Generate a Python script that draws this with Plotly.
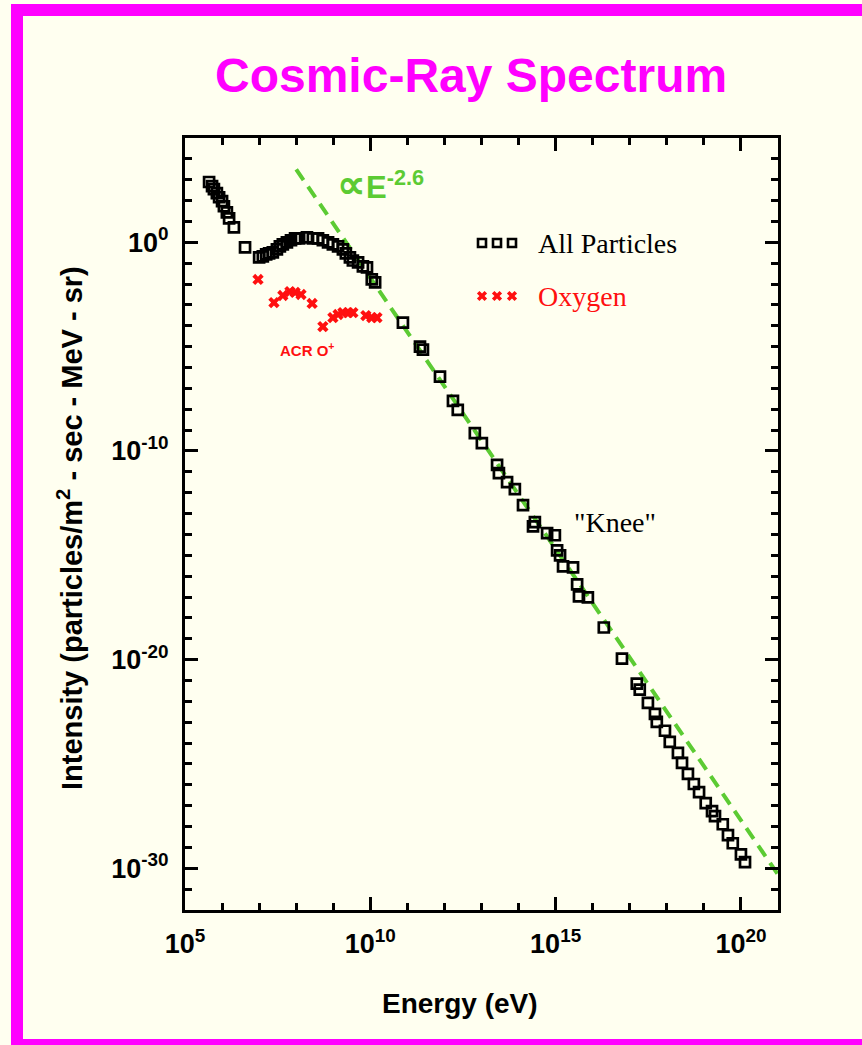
import numpy as np
import plotly.graph_objects as go

# ---------------- data (log10 values) ----------------
all_log_e = [5.65, 5.73, 5.78, 5.86, 5.92, 6.00, 6.05, 6.13, 6.19, 6.32, 6.62,
             7.00, 7.10, 7.19, 7.27, 7.37, 7.48, 7.56, 7.64, 7.75, 7.86, 7.97, 8.08,
             8.29, 8.45, 8.59, 8.72, 8.86, 8.99, 9.13, 9.26, 9.34, 9.45, 9.53, 9.67,
             9.80, 9.91, 10.04, 10.13,
             10.88, 11.34, 11.42, 11.88, 12.23, 12.36, 12.82, 13.01, 13.42, 13.47,
             13.69, 13.90, 14.12, 14.44, 14.39, 14.77, 14.98, 15.04, 15.12, 15.20,
             15.47, 15.58, 15.63, 15.87, 16.30, 16.79, 17.19, 17.27, 17.49, 17.68,
             17.73, 17.95, 18.08, 18.30, 18.41, 18.57, 18.73, 18.87, 19.05, 19.22,
             19.30, 19.51, 19.65, 19.78, 20.00, 20.11]
all_log_i = [2.89, 2.69, 2.55, 2.36, 2.16, 1.97, 1.73, 1.44, 1.15, 0.72, -0.24,
             -0.72, -0.67, -0.58, -0.53, -0.48, -0.34, -0.19, -0.10, 0.00, 0.10, 0.19, 0.19,
             0.24, 0.19, 0.19, 0.10, 0.00, -0.10, -0.19, -0.34, -0.53, -0.72, -0.87, -0.96,
             -1.15, -1.20, -1.78, -1.92,
             -3.85, -5.00, -5.14, -6.44, -7.60, -8.03, -9.14, -9.62, -10.67, -11.06,
             -11.49, -11.83, -12.60, -13.41, -13.61, -13.94, -14.04, -14.76, -15.00, -15.53,
             -15.58, -16.39, -16.97, -17.02, -18.46, -19.95, -21.15, -21.44, -22.07, -22.60,
             -22.98, -23.41, -23.94, -24.47, -24.95, -25.48, -25.96, -26.35, -26.88, -27.26,
             -27.50, -27.89, -28.41, -28.80, -29.33, -29.71]

oxy_log_e = [6.97, 7.40, 7.64, 7.83, 7.97, 8.13, 8.43, 8.72, 8.99, 9.13, 9.26,
             9.40, 9.53, 9.88, 10.04, 10.18]
oxy_log_i = [-1.78, -2.89, -2.55, -2.36, -2.40, -2.50, -2.93, -4.04, -3.61, -3.46, -3.37,
             -3.37, -3.37, -3.51, -3.61, -3.61]

# power-law guide line endpoints (log10 E, log10 I)
fit_log_e = [8.0, 21.0]
fit_log_i = [3.5, -30.3]

x_tick_exp = [5, 10, 15, 20]
y_tick_exp = [0, -10, -20, -30]

# ---------------- layout constants ----------------
W, H = 862, 1045
L, R, T, B = 185, 84, 138, 135
PW, PH = W - L - R, H - T - B
CREAM = "#FFFFF0"
MAGENTA = "#FF00FF"
GREEN = "#5CCB33"
RED = "#FF1010"
SANS = "Liberation Sans, Arial, Helvetica, sans-serif"
SERIF = "Liberation Serif, Times New Roman, serif"


def px(x):
    return (x - L) / PW


def py(y):
    return (H - B - y) / PH


fig = go.Figure()

fig.add_trace(go.Scatter(
    x=np.power(10.0, fit_log_e), y=np.power(10.0, fit_log_i), mode="lines",
    line=dict(color=GREEN, width=4, dash="13px,8px"), showlegend=False, hoverinfo="skip"))

fig.add_trace(go.Scatter(
    x=np.power(10.0, all_log_e), y=np.power(10.0, all_log_i), mode="markers",
    marker=dict(symbol="square-open", size=10, color="black", line=dict(width=2.7, color="black")),
    name="All Particles", showlegend=False))

fig.add_trace(go.Scatter(
    x=np.power(10.0, oxy_log_e), y=np.power(10.0, oxy_log_i), mode="markers",
    marker=dict(symbol="x", size=10, color=RED, line=dict(width=0)),
    name="Oxygen", showlegend=False))

# legend keys on an overlay (0..1) axis pair
key_x = [px(482), px(497), px(512)]
fig.add_trace(go.Scatter(
    x=key_x, y=[py(243)] * 3, xaxis="x2", yaxis="y2", mode="markers",
    marker=dict(symbol="square-open", size=8, color="black", line=dict(width=2.6, color="black")),
    showlegend=False, hoverinfo="skip"))
fig.add_trace(go.Scatter(
    x=key_x, y=[py(296)] * 3, xaxis="x2", yaxis="y2", mode="markers",
    marker=dict(symbol="x", size=9, color=RED, line=dict(width=0)),
    showlegend=False, hoverinfo="skip"))

axis_common = dict(
    type="log", showgrid=False, zeroline=False, showline=True, linecolor="black",
    linewidth=3, mirror="allticks", ticks="inside", ticklen=13, tickwidth=3,
    tickcolor="black", tickfont=dict(family=SANS, size=27, color="black", weight="bold"),
    ticklabelstandoff=8,
)

fig.update_layout(
    width=W, height=H, autosize=False,
    margin=dict(l=L, r=R, t=T, b=B, pad=0),
    paper_bgcolor=CREAM, plot_bgcolor=CREAM,
    showlegend=False,
    xaxis=dict(
        **axis_common, range=[5, 21],
        tickmode="array", tickvals=[10.0 ** k for k in x_tick_exp],
        ticktext=[f"10<sup>{k}</sup>" for k in x_tick_exp],
        minor=dict(tickmode="array", tickvals=[10.0 ** k for k in range(5, 22)],
                   ticks="inside", ticklen=7, tickwidth=3, tickcolor="black", showgrid=False),
    ),
    yaxis=dict(
        **axis_common, range=[-32, 5],
        tickmode="array", tickvals=[10.0 ** k for k in y_tick_exp],
        ticktext=[f"10<sup>{k}</sup>" for k in y_tick_exp],
        minor=dict(tickmode="array", tickvals=[10.0 ** k for k in range(-32, 6)],
                   ticks="inside", ticklen=7, tickwidth=3, tickcolor="black", showgrid=False),
    ),
    xaxis2=dict(overlaying="x", range=[0, 1], visible=False, fixedrange=True),
    yaxis2=dict(overlaying="y", range=[0, 1], visible=False, fixedrange=True),
)


def note(text, x, y, font, xanchor="center", **kw):
    return dict(text=text, x=px(x), y=py(y), xref="paper", yref="paper",
                xanchor=xanchor, yanchor="middle", showarrow=False, font=font, **kw)


ann = [
    note("Cosmic-Ray Spectrum", 471, 76, dict(family=SANS, size=48, color=MAGENTA, weight="bold")),
    note("Energy (eV)", 460, 1003, dict(family=SANS, size=28, color="black", weight="bold")),
    note("Intensity (particles/m<sup>2</sup> - sec - MeV - sr)", 70, 528,
         dict(family=SANS, size=29, color="black", weight="bold"), textangle=-90),
    note("All Particles", 536, 243, dict(family=SERIF, size=28, color="black"), xanchor="left"),
    note("Oxygen", 536, 296, dict(family=SERIF, size=28, color=RED), xanchor="left"),
    note("\"Knee\"", 615, 522, dict(family=SERIF, size=28, color="black")),
    note("ACR O<sup>+</sup>", 307, 349, dict(family=SANS, size=15, color=RED, weight="bold")),
    note("<span style=\"font-size:40px\">\u221d</span>E<sup>-2.6</sup>", 335, 184,
         dict(family=SANS, size=31, color=GREEN, weight="bold"), xanchor="left"),
]
fig.update_layout(annotations=ann)

# magenta frame around the page
for x0, x1, y0, y1 in [(11, 870, 4, 16), (11, 23, 4, 1050), (11, 870, 1039, 1050)]:
    fig.add_shape(type="rect", xref="paper", yref="paper", x0=px(x0), x1=px(x1),
                  y0=py(y0), y1=py(y1), fillcolor=MAGENTA, line=dict(width=0), layer="above")

fig.write_html("out.html", config={"displayModeBar": False},
               post_script="document.body.style.margin='0';document.body.style.overflow='hidden';")
